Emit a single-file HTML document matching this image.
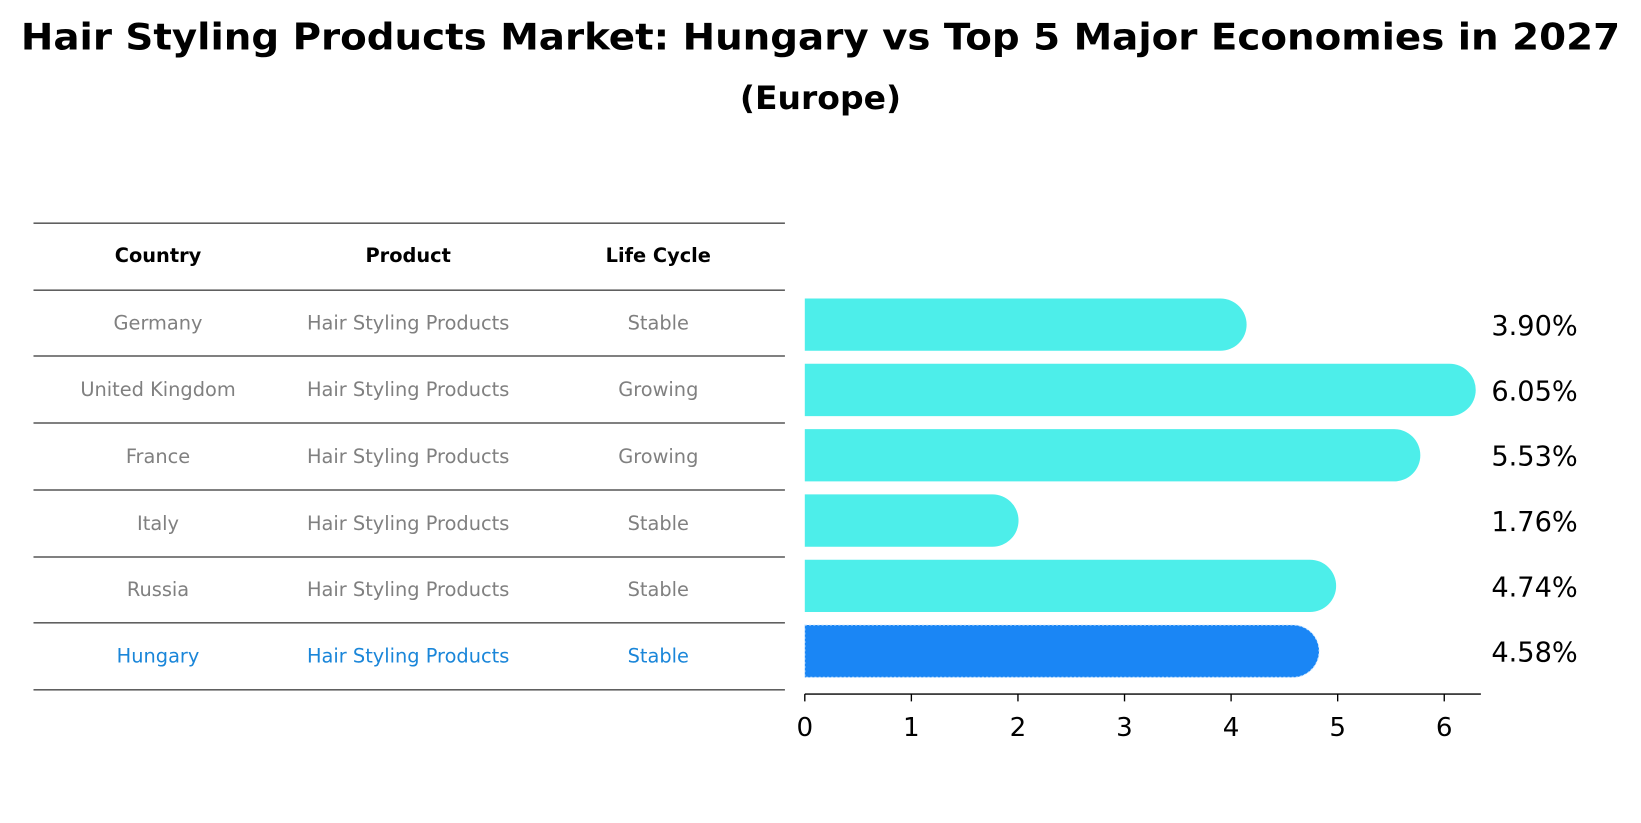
<!DOCTYPE html>
<html><head><meta charset="utf-8"><style>
html,body{margin:0;padding:0;background:#fff;}
svg{display:block;font-family:"Liberation Sans","DejaVu Sans",sans-serif;}
</style></head><body>
<svg id="chart" width="1641" height="823" viewBox="0 0 1568 786" xmlns="http://www.w3.org/2000/svg">
<text x="784" y="47" text-anchor="middle" font-size="35" font-weight="bold" font-family="DejaVu Sans, sans-serif" textLength="1528" lengthAdjust="spacingAndGlyphs">Hair Styling Products Market: Hungary vs Top 5 Major Economies in 2027</text>
<text x="784" y="104" text-anchor="middle" font-size="31" font-weight="bold" font-family="DejaVu Sans, sans-serif" textLength="154" lengthAdjust="spacingAndGlyphs">(Europe)</text>
<g id="table"></g>
<g id="bars"></g>
</svg>
<script>
const countries = ["Germany","United Kingdom","France","Italy","Russia","Hungary"];
const products = ["Hair Styling Products","Hair Styling Products","Hair Styling Products","Hair Styling Products","Hair Styling Products","Hair Styling Products"];
const lifeCycles = ["Stable","Growing","Growing","Stable","Stable","Stable"];
const values = [3.90,6.05,5.53,1.76,4.74,4.58];
const ticks = [0,1,2,3,4,5,6];

const NS="http://www.w3.org/2000/svg";
function mk(tag,attrs,parent,text){const e=document.createElementNS(NS,tag);for(const k in attrs)e.setAttribute(k,attrs[k]);if(text!==undefined)e.textContent=text;parent.appendChild(e);return e;}
const table=document.getElementById('table');
const bars=document.getElementById('bars');
const font="DejaVu Sans, sans-serif";
const lineYs=[213,277,340,404,468,532,595,659];
lineYs.forEach((y,i)=>{const l=mk('line',{x1:32,x2:750,y1:y,y2:y,stroke:'#000','stroke-width':1},table);

});
const colX=[151,390,629];
["Country","Product","Life Cycle"].forEach((h,i)=>{const t=mk('text',{x:colX[i],y:250,'text-anchor':'middle','font-size':18.5,'font-weight':'bold','font-family':font},table,h);

});
countries.forEach((c,r)=>{const y=(lineYs[r+1]+lineYs[r+2])/2+6;const col=r===countries.length-1?'#1a86d9':'#808080';
[c,products[r],lifeCycles[r]].forEach((v,i)=>{const t=mk('text',{x:colX[i],y:y,'text-anchor':'middle','font-size':18.5,fill:col,'font-family':font},table,v);

});});
const x0=769, unit=(1380-769)/6;
const xs=v=>x0+v*unit;
const bh=50;
values.forEach((v,i)=>{const cy=310+i*62.4;const hu=i===values.length-1;
const w=xs(v)-x0;
const p=mk('path',{d:`M${x0},${cy-bh/2} H${x0+w} A${bh/2},${bh/2} 0 0 1 ${x0+w},${cy+bh/2} H${x0} Z`,fill:hu?'#1a86f5':'#4deeea',stroke:hu?'#cfe8ff':'none','stroke-dasharray':hu?'2,2':'','stroke-width':1},bars);


const t=mk('text',{x:1425,y:cy+10,'font-size':26,'font-family':font},bars,values[i].toFixed(2)+'%');

});
const ax=mk('line',{x1:x0,x2:1415,y1:663,y2:663,stroke:'#000','stroke-width':1.3},bars);


ticks.forEach(tk=>{const tl=mk('line',{x1:xs(tk),x2:xs(tk),y1:663,y2:670,stroke:'#000','stroke-width':1.3},bars);


const t=mk('text',{x:xs(tk),y:703,'text-anchor':'middle','font-size':25,'font-family':font},bars,String(tk));

});
</script>
</body></html>
